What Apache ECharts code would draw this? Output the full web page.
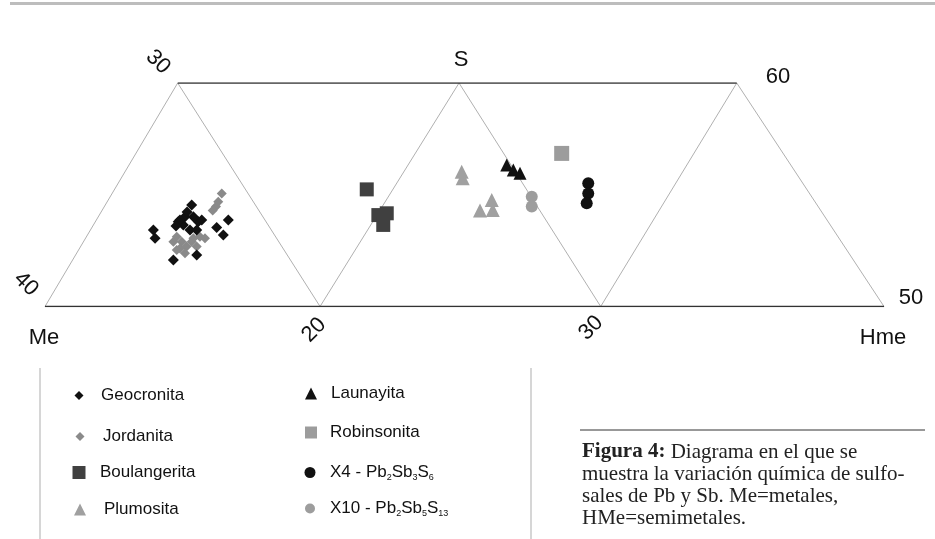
<!DOCTYPE html>
<html>
<head>
<meta charset="utf-8">
<script src="https://cdn.jsdelivr.net/npm/echarts@6/dist/echarts.min.js"></script>
<style>
  html, body { margin: 0; padding: 0; background: #fff; }
  #chart { width: 935px; height: 539px; }
</style>
</head>
<body>
<div id="chart"></div>
<script>
// diagram coords: x 0..600 along Me -> Hme, y 0..100 from base line to top line
const baseVertices = [[0, 0], [94.9, 100], [196.7, 0], [296.1, 100], [397.4, 0], [494.7, 100], [600, 0]];
const topLine = [[94.9, 100], [494.7, 100]];
const bottomLine = [[0, 0], [600, 0]];

const geocronita = [[104.9, 45.4], [100.1, 40.2], [96.5, 38.7], [98.9, 36.5], [106.1, 40.2], [109.6, 37.9],
  [112.1, 38.7], [103.7, 34.2], [108.5, 34.2], [77.5, 34.2], [78.7, 30.5], [131.1, 38.7], [122.8, 35.4],
  [127.5, 32.0], [91.8, 20.8], [108.5, 23.0], [95.3, 37.9], [101.6, 42.3], [93.7, 36.0]];
const jordanita = [[126.4, 50.6], [123.9, 46.9], [122.3, 44.7], [119.9, 42.9], [94.2, 31.2], [97.8, 29.0],
  [91.8, 29.0], [96.5, 26.0], [101.3, 26.8], [104.9, 29.0], [108.5, 26.8], [110.8, 31.2], [114.4, 30.5],
  [94.2, 25.3], [100.1, 23.8], [106.1, 30.5]];
const boulangerita = [[230.1, 52.4], [238.4, 40.9], [244.4, 41.7], [241.9, 36.5]];
const plumosita = [[298.0, 60.3], [298.7, 57.4], [319.5, 47.7], [311.1, 42.9], [320.2, 43.2]];
const launayita = [[330.2, 63.3], [334.9, 61.1], [339.7, 59.6]];
const robinsonita = [[369.5, 68.5]];
const x4 = [[388.5, 55.1], [388.5, 50.6], [387.4, 46.2]];
const x10 = [[348.1, 49.1], [348.1, 44.7]];

const cornerLabels = [
  { text: '30', x: 158, y: 62, rot: -45 },
  { text: 'S', x: 461, y: 60, rot: 0 },
  { text: '60', x: 778, y: 77, rot: 0 },
  { text: '40', x: 26, y: 284, rot: -45 },
  { text: '50', x: 911, y: 298, rot: 0 },
  { text: 'Me', x: 44, y: 338, rot: 0 },
  { text: '20', x: 314, y: 330, rot: 45 },
  { text: '30', x: 591, y: 328, rot: 45 },
  { text: 'Hme', x: 883, y: 338, rot: 0 }
];

const captionLines = [
  '{b|Figura 4:} Diagrama en el que se',
  'muestra la variación química de sulfo-',
  'sales de Pb y Sb. Me=metales,',
  'HMe=semimetales.'
];

const chart = echarts.init(document.getElementById('chart'));

const SANS = 'Liberation Sans, Arial, sans-serif';

function scatter(name, data, symbol, size, color) {
  return {
    name, type: 'scatter', data, symbol, symbolSize: size,
    itemStyle: { color, opacity: 1 }, z: 5, silent: true
  };
}

// one legend per entry so every row sits where the figure has it
function leg(name, icon, size, cx, cy, textLeft) {
  return {
    data: [{ name, icon }],
    left: cx - size / 2,
    top: cy - 10,
    itemWidth: size,
    itemHeight: size,
    padding: 0,
    selectedMode: false,
    formatter: (n) => {
      if (n === 'X4 - Pb2Sb3S6') return '{t|X4 - Pb}{s|2}{t|Sb}{s|3}{t|S}{s|6}';
      if (n === 'X10 - Pb2Sb5S13') return '{t|X10 - Pb}{s|2}{t|Sb}{s|5}{t|S}{s|13}';
      return '{t|' + n + '}';
    },
    textStyle: {
      padding: [0, 0, 0, textLeft - (cx + size / 2) - 5],
      rich: {
        t: { fontSize: 17, fontFamily: SANS, color: '#111', lineHeight: 20 },
        s: { fontSize: 9, fontFamily: SANS, color: '#111', lineHeight: 20, verticalAlign: 'bottom', padding: [8, 0, 0, 0] }
      }
    }
  };
}

const option = {
  animation: false,
  backgroundColor: '#fff',
  grid: { left: 45, right: 51, top: 83, bottom: 232.5 },
  xAxis: { type: 'value', min: 0, max: 600, show: false },
  yAxis: { type: 'value', min: 0, max: 100, show: false },
  legend: [
    leg('Geocronita', 'diamond', 9, 79, 397, 101),
    leg('Jordanita', 'diamond', 9, 80, 438, 103),
    leg('Boulangerita', 'rect', 13, 79, 474, 100),
    leg('Plumosita', 'triangle', 12, 80, 511, 104),
    leg('Launayita', 'triangle', 12, 311, 395, 331),
    leg('Robinsonita', 'rect', 12, 311, 434, 330),
    leg('X4 - Pb2Sb3S6', 'circle', 11, 310, 474, 330),
    leg('X10 - Pb2Sb5S13', 'circle', 10, 310, 510, 330)
  ],
  series: [
    {
      type: 'line', data: baseVertices, symbol: 'none', silent: true,
      lineStyle: { color: '#b0b0b0', width: 1 }, z: 1
    },
    {
      type: 'line', data: topLine, symbol: 'none', silent: true,
      lineStyle: { color: '#333', width: 1.5 }, z: 2
    },
    {
      type: 'line', data: bottomLine, symbol: 'none', silent: true,
      lineStyle: { color: '#333', width: 1.5 }, z: 2
    },
    scatter('Jordanita', jordanita, 'diamond', 10, '#8a8a8a'),
    scatter('Geocronita', geocronita, 'diamond', 11, '#111'),
    scatter('Boulangerita', boulangerita, 'rect', 14, '#404040'),
    scatter('Plumosita', plumosita, 'triangle', 14, '#a0a0a0'),
    scatter('Launayita', launayita, 'triangle', 13, '#111'),
    scatter('Robinsonita', robinsonita, 'rect', 15, '#9c9c9c'),
    scatter('X4 - Pb2Sb3S6', x4, 'circle', 12, '#111'),
    scatter('X10 - Pb2Sb5S13', x10, 'circle', 12, '#9d9d9d')
  ],
  graphic: [
    // header rule
    { type: 'rect', shape: { x: 10, y: 2, width: 925, height: 3 }, style: { fill: '#bdbdbd' } },
    // legend box rules
    { type: 'line', shape: { x1: 40, y1: 368, x2: 40, y2: 539 }, style: { stroke: '#c8c8c8', lineWidth: 1.5 } },
    { type: 'line', shape: { x1: 531, y1: 368, x2: 531, y2: 539 }, style: { stroke: '#c8c8c8', lineWidth: 1.5 } },
    // caption rule
    { type: 'line', shape: { x1: 580, y1: 430, x2: 925, y2: 430 }, style: { stroke: '#333', lineWidth: 1 } },
    {
      type: 'text', left: 582, top: 441,
      style: {
        text: captionLines.join('\n'),
        font: '21px "Liberation Serif", serif',
        fill: '#222',
        lineHeight: 22,
        rich: {
          b: { fontWeight: 'bold', fontSize: 21, fontFamily: 'Liberation Serif', fill: '#222', lineHeight: 22 }
        }
      }
    },
    ...cornerLabels.map((l) => ({
      type: 'text', x: l.x, y: l.y, rotation: l.rot * Math.PI / 180,
      style: {
        text: l.text, font: '22px ' + SANS, fill: '#111',
        align: 'center', verticalAlign: 'middle'
      }
    }))
  ]
};

chart.setOption(option);
</script>
</body>
</html>
